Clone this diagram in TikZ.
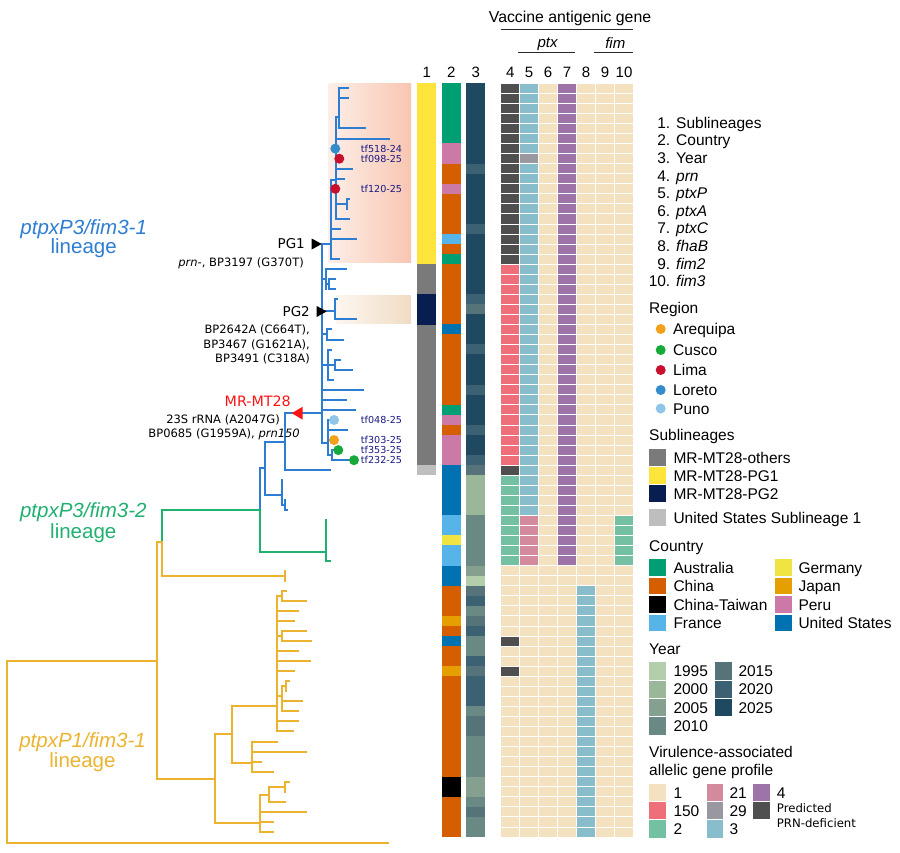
\documentclass[tikz,border=0pt]{standalone}
\usepackage{fontspec}
\setmainfont{Liberation Sans}
\newfontfamily\dvs{DejaVu Sans}
% tree colours
\definecolor{trB}{RGB}{45,125,210}
\definecolor{trG}{RGB}{32,176,112}
\definecolor{trO}{RGB}{236,179,48}
\definecolor{tipnavy}{RGB}{25,25,130}
\definecolor{mrred}{RGB}{250,20,20}
% profile colours
\definecolor{pOne}{RGB}{243,225,192}
\definecolor{pOneFifty}{RGB}{238,111,122}
\definecolor{pTwo}{RGB}{116,192,162}
\definecolor{pTwentyOne}{RGB}{212,138,157}
\definecolor{pTwentyNine}{RGB}{153,151,159}
\definecolor{pThree}{RGB}{136,189,203}
\definecolor{pFour}{RGB}{158,115,168}
\definecolor{pPrn}{RGB}{79,79,79}
% country
\definecolor{cAU}{RGB}{0,158,115}
\definecolor{cCN}{RGB}{213,94,0}
\definecolor{cTW}{RGB}{0,0,0}
\definecolor{cFR}{RGB}{86,180,233}
\definecolor{cDE}{RGB}{240,228,66}
\definecolor{cJP}{RGB}{230,159,0}
\definecolor{cPE}{RGB}{204,121,167}
\definecolor{cUS}{RGB}{0,114,178}
% sublineages
\definecolor{sOth}{RGB}{122,122,122}
\definecolor{sPGa}{RGB}{255,228,60}
\definecolor{sPGb}{RGB}{8,30,80}
\definecolor{sUS}{RGB}{190,190,190}
% years
\definecolor{yA}{RGB}{178,206,171}
\definecolor{yB}{RGB}{155,183,154}
\definecolor{yC}{RGB}{134,160,143}
\definecolor{yD}{RGB}{106,136,132}
\definecolor{yE}{RGB}{85,115,120}
\definecolor{yF}{RGB}{60,97,114}
\definecolor{yG}{RGB}{30,73,96}
% regions
\definecolor{rAr}{RGB}{243,160,26}
\definecolor{rCu}{RGB}{22,170,60}
\definecolor{rLi}{RGB}{200,16,46}
\definecolor{rLo}{RGB}{52,140,204}
\definecolor{rPu}{RGB}{142,197,232}
% backgrounds
\definecolor{bgAl}{RGB}{253,238,231}
\definecolor{bgAr}{RGB}{248,198,178}
\definecolor{bgBl}{RGB}{253,246,240}
\definecolor{bgBr}{RGB}{240,220,196}
\definecolor{hdr}{RGB}{40,40,40}

\newcommand\ry[1]{83.3+10.05*(#1)}
\newcommand\hrun[4]{\foreach \i in {#2,...,#3}{\filldraw[fill=#4,draw=white,line width=1] ({500.7+18.95*(#1-4)},{\ry{\i}}) rectangle ({500.7+18.95*(#1-3)},{\ry{\i+1}});}}

\begin{document}
\begin{tikzpicture}[x=1pt,y=-1pt,
  tb/.style={draw=trB,line width=1.9,line cap=rect},
  tg/.style={draw=trG,line width=1.9,line cap=rect},
  to/.style={draw=trO,line width=1.9,line cap=rect},
  leg/.style={font=\fontsize{15.5}{18}\selectfont,inner sep=0pt,text height=11.1pt,text depth=0pt,anchor=west},
  legi/.style={leg,font=\fontsize{15.5}{18}\selectfont\itshape},
  legn/.style={leg,anchor=east},
  tip/.style={font=\dvs\fontsize{9.6}{11}\selectfont,text=tipnavy,inner sep=0pt,text height=7pt,text depth=0pt,anchor=west},
  anno/.style={font=\dvs\fontsize{11.5}{13}\selectfont,inner sep=0pt,text height=8.4pt,text depth=0pt,anchor=east},
  pglab/.style={font=\dvs\fontsize{13.5}{15}\selectfont,inner sep=0pt,text height=9.9pt,text depth=0pt,anchor=east},
  linlab/.style={font=\fontsize{20.5}{22}\selectfont,inner sep=0pt,text height=14.7pt,text depth=0pt,anchor=center},
  colnum/.style={font=\fontsize{15}{17}\selectfont,inner sep=0pt,text height=10.7pt,text depth=0pt,anchor=center},
  small/.style={font=\dvs\fontsize{11.7}{13}\selectfont,inner sep=0pt,text height=8.5pt,text depth=0pt,anchor=west},
  dot/.style={circle,inner sep=0pt,minimum size=10pt}
]
\useasboundingbox (0,0) rectangle (900,852);

% ---------- highlighted clades ----------
\shade[left color=bgAl,right color=bgAr] (328.7,83.3) rectangle (411,262.7);
\shade[left color=bgBl,right color=bgBr] (336.7,295) rectangle (410.7,323.3);

% ---------- header ----------
\node[font=\fontsize{15.8}{18}\selectfont,inner sep=0pt,text height=11.3pt,text depth=3pt] (hvac) at (570,18) {Vaccine antigenic gene};
\draw[hdr,line width=1.2] (500.7,29.3) -- (633,29.3);
\node[font=\fontsize{15}{17}\selectfont\itshape,inner sep=0pt,text height=10.7pt,text depth=3pt] (hptx) at (547.5,44) {ptx};
\node[font=\fontsize{15}{17}\selectfont\itshape,inner sep=0pt,text height=10.7pt,text depth=0pt] (hfim) at (615.3,43) {fim};
\draw[hdr,line width=1.2] (518,52.3) -- (575,52.3);
\draw[hdr,line width=1.2] (594,52.3) -- (633,52.3);
\foreach \t/\x in {1/426.7,2/451.2,3/475.8,4/510.2,5/529.1,6/548.1,7/567,8/586,9/605,10/624}
  \node[colnum] (cn\t) at (\x,71.7) {\t};

% ---------- column 1: sublineages ----------
\fill[sPGa] (417.3,{\ry{0}}) rectangle (436,{\ry{18}});
\fill[sOth] (417.3,{\ry{18}}) rectangle (436,{\ry{21}});
\fill[sPGb] (417.3,{\ry{21}}) rectangle (436,{\ry{24}});
\fill[sOth] (417.3,{\ry{24}}) rectangle (436,{\ry{38}});
\fill[sUS] (417.3,{\ry{38}}) rectangle (436,{\ry{39}});

% ---------- column 2: country ----------
\foreach \c [count=\n from 0] in {cAU,cAU,cAU,cAU,cAU,cAU,cPE,cPE,cCN,cCN,cPE,cCN,cCN,cCN,cCN,cFR,cCN,cAU,cCN,cCN,cCN,cCN,cCN,cCN,cUS,cCN,cCN,cCN,cCN,cCN,cCN,cCN,cAU,cPE,cCN,cPE,cPE,cPE,cUS,cUS,cUS,cUS,cUS,cFR,cFR,cDE,cFR,cFR,cUS,cUS,cCN,cCN,cCN,cJP,cCN,cUS,cCN,cCN,cJP,cCN,cCN,cCN,cCN,cCN,cCN,cCN,cCN,cCN,cCN,cTW,cTW,cCN,cCN,cCN,cCN}
  \fill[\c] (441.7,{\ry{\n}-0.2}) rectangle (460.7,{\ry{\n+1}+0.2});

% ---------- column 3: year ----------
\foreach \c [count=\n from 0] in {yG,yG,yG,yG,yG,yG,yG,yG,yF,yG,yG,yG,yG,yG,yF,yG,yG,yG,yG,yG,yG,yF,yE,yG,yG,yG,yF,yG,yG,yG,yF,yG,yG,yG,yF,yG,yG,yF,yE,yB,yB,yB,yB,yD,yD,yD,yD,yD,yC,yA,yE,yF,yD,yE,yF,yD,yD,yF,yE,yF,yF,yF,yD,yE,yE,yD,yD,yD,yD,yC,yC,yD,yE,yD,yD}
  \fill[\c] (466.3,{\ry{\n}-0.2}) rectangle (485.3,{\ry{\n+1}+0.2});

% ---------- columns 4-10: allelic profiles ----------
\foreach \k in {4,...,10}{\hrun{\k}{0}{74}{pOne}}
\hrun{4}{0}{17}{pPrn}
\hrun{4}{18}{37}{pOneFifty}
\hrun{4}{38}{38}{pPrn}
\hrun{4}{39}{47}{pTwo}
\hrun{4}{55}{55}{pPrn}
\hrun{4}{58}{58}{pPrn}
\hrun{5}{0}{42}{pThree}
\hrun{5}{7}{7}{pTwentyNine}
\hrun{5}{43}{47}{pTwentyOne}
\hrun{7}{0}{47}{pFour}
\hrun{8}{50}{74}{pThree}
\hrun{10}{43}{47}{pTwo}

% ---------- tree: ptxP3/fim3-1 (blue) ----------
\draw[tb]
 (339.3,88.3)--(339.3,128.4) (339.3,88.3)--(348.3,88.3) (339.3,98.4)--(347.7,98.4) (339.3,128.4)--(365,128.4)
 (336,116.7)--(339.3,116.7) (336,116.7)--(336,218.9)
 (336,138.6)--(389.3,138.6) (336,158.7)--(339.3,158.7) (336,168.7)--(351.7,168.7) (336,178.8)--(343.7,178.8)
 (336,203.9)--(347.3,203.9) (347.3,198.9)--(347.3,208.9) (347.3,198.9)--(349.4,198.9)
 (336,218.9)--(349.3,218.9)
 (331,180)--(336,180) (331,180)--(331,259.2)
 (331,229)--(340,229) (331,239.1)--(356,239.1) (331,259.2)--(339,259.2)
 (321.7,244)--(331,244) (321.7,244)--(321.7,443.3)
 (321.7,279.3)--(325.7,279.3) (325.7,269.2)--(325.7,289.3) (325.7,269.2)--(345.7,269.2)
 (325.7,284.3)--(329.4,284.3) (329.4,279.3)--(329.4,289.3) (329.4,279.3)--(335,279.3) (329.4,289.3)--(335,289.3)
 (321.7,311.4)--(335,311.4) (335,299.4)--(335,319.3) (335,299.4)--(337.3,299.4) (335,319.3)--(355.7,319.3)
 (321.7,334.4)--(326.7,334.4) (326.7,329.4)--(326.7,339.6) (326.7,329.4)--(330.7,329.4) (326.7,339.6)--(343.3,339.6)
 (321.7,364.7)--(328.3,364.7) (328.3,349.6)--(328.3,379.8) (328.3,349.6)--(331,349.6) (328.3,364.7)--(335,364.7)
 (335,359.7)--(335,369.7) (335,359.7)--(340,359.7) (335,369.7)--(351.7,369.7) (328.3,379.8)--(333,379.8)
 (321.7,389.8)--(363.3,389.8) (321.7,399.9)--(345.7,399.9) (321.7,409.9)--(355,409.9)
 (285,413.3)--(321.7,413.3)
 (321.7,443.3)--(328,443.3) (328,420)--(328,455) (328,420)--(334,420) (328,430)--(346.7,430) (328,440.1)--(334,440.1)
 (328,455)--(331.7,455) (331.7,450.1)--(331.7,460.2) (331.7,450.1)--(338.3,450.1) (331.7,460.2)--(354,460.2)
 (285,413.3)--(285,470.2) (285,470.2)--(330,470.2) (265,441.7)--(285,441.7) (265,441.7)--(265,495)
 (265,495)--(281.7,495) (281.7,480.2)--(281.7,505.4) (281.7,505.4)--(285,505.4) (285,500.3)--(285,510.4) (285,510.4)--(287.4,510.4)
 (260,468.3)--(265,468.3) (260,468.3)--(260,510);

% ---------- tree: ptxP3/fim3-2 (green) ----------
\draw[tg]
 (161.7,510)--(260,510) (260,510)--(260,551.7) (260,551.7)--(325.7,551.7)
 (325.7,520.4)--(325.7,560.7) (325.7,560.7)--(330,560.7) (161.7,510)--(161.7,541.7);

% ---------- tree: ptxP1/fim3-1 (orange) ----------
\draw[to]
 (161.7,541.7)--(161.7,575.7) (161.7,575.7)--(285,575.7) (285,570.7)--(285,580.8)
 (157.3,541.7)--(161.7,541.7) (157.3,541.7)--(157.3,779)
 (7.3,660.7)--(157.3,660.7) (7.3,660.7)--(7.3,842.7) (7.3,842.7)--(388.3,842.7)
 (157.3,779)--(215,779) (215,734.3)--(215,822.7) (215,734.3)--(231.7,734.3)
 (231.7,705.7)--(231.7,763.3) (231.7,705.7)--(276.7,705.7) (276.7,595.7)--(276.7,731.3)
 (276.7,595.8)--(281.7,595.8) (281.7,590.8)--(281.7,600.9) (281.7,590.8)--(286,590.8) (281.7,600.9)--(306,600.9)
 (276.7,610.9)--(298.3,610.9) (276.7,621)--(294.3,621)
 (276.7,636)--(281.7,636) (281.7,631)--(281.7,641.1) (281.7,631)--(306,631) (281.7,641.1)--(310.7,641.1)
 (276.7,651.1)--(298.3,651.1) (276.7,661.2)--(310,661.2) (276.7,671.2)--(294.3,671.2)
 (276.7,696.4)--(281.7,696.4) (281.7,686.3)--(281.7,711.4) (281.7,686.3)--(286,686.3) (286,681.3)--(286,691.3)
 (286,681.3)--(289.3,681.3) (281.7,701.4)--(301.7,701.4) (281.7,711.4)--(297.7,711.4)
 (276.7,721.3)--(297.7,721.3) (276.7,731.3)--(293.3,731.3)
 (231.7,763.3)--(252.3,763.3) (252.3,741.6)--(252.3,771.7)
 (252.3,741.6)--(276.7,741.6) (252.3,751.6)--(306,751.6) (252.3,761.7)--(260.7,761.7) (252.3,771.7)--(273.3,771.7)
 (215,822.7)--(260,822.7) (260,795)--(260,832)
 (260,795)--(269,795) (269,786.8)--(269,801.9) (269,786.8)--(285,786.8) (285,781.8)--(285,791.8) (285,781.8)--(289.3,781.8)
 (269,801.9)--(285,801.9) (260,811.9)--(306,811.9) (260,822)--(273.3,822) (260,832)--(273.3,832);

% ---------- node markers ----------
\fill[black] (311.7,238.5)--(311.7,249.5)--(321.7,244)--cycle;
\fill[black] (316.7,306)--(316.7,317)--(326.7,311.4)--cycle;
\fill[mrred] (291.7,413.2)--(302.7,406.7)--(302.7,419.7)--cycle;

% ---------- region dots on tips ----------
\node[dot,fill=rLo] (d1) at (335.3,148.6) {};
\node[dot,fill=rLi] (d2) at (339.3,158.7) {};
\node[dot,fill=rLi] (d3) at (335.3,188.8) {};
\node[dot,fill=rPu] (d4) at (334,420) {};
\node[dot,fill=rAr] (d5) at (334,440.1) {};
\node[dot,fill=rCu] (d6) at (338.3,450.1) {};
\node[dot,fill=rCu] (d7) at (354,460.2) {};

% ---------- tip labels ----------
\node[tip] (t1) at (360.7,148.6) {tf518-24};
\node[tip] (t2) at (360.7,158.7) {tf098-25};
\node[tip] (t3) at (360.7,188.8) {tf120-25};
\node[tip] (t4) at (360.7,420) {tf048-25};
\node[tip] (t5) at (360.7,440.1) {tf303-25};
\node[tip] (t6) at (360.7,450.1) {tf353-25};
\node[tip] (t7) at (360.7,460.2) {tf232-25};

% ---------- annotations ----------
\node[pglab] (pg1) at (305,244) {PG1};
\node[anno] (pg1a) at (304,262.5) {\itshape prn\upshape-, BP3197 (G370T)};
\node[pglab] (pg2) at (310,311.5) {PG2};
\node[anno] (pg2a) at (310,329.5) {BP2642A (C664T),};
\node[anno] (pg2b) at (310,344) {BP3467 (G1621A),};
\node[anno] (pg2c) at (310,358.5) {BP3491 (C318A)};
\node[pglab,text=mrred,font=\dvs\fontsize{14.3}{16}\selectfont,text height=10.4pt] (mr) at (291,401) {MR-MT28};
\node[anno] (mra) at (280,419) {23S rRNA (A2047G)};
\node[anno] (mrb) at (300,433.5) {BP0685 (G1959A), \itshape prn150};

% ---------- lineage labels ----------
\node[linlab,text=trB,font=\fontsize{20.5}{22}\selectfont\itshape] (lb1) at (83.7,227.5) {ptpxP3/fim3-1};
\node[linlab,text=trB] (lb2) at (83.7,246.5) {lineage};
\node[linlab,text=trG,font=\fontsize{20.5}{22}\selectfont\itshape] (lg1) at (83.3,510) {ptpxP3/fim3-2};
\node[linlab,text=trG] (lg2) at (83.3,531) {lineage};
\node[linlab,text=trO,font=\fontsize{20.5}{22}\selectfont\itshape] (lo1) at (82.5,740) {ptpxP1/fim3-1};
\node[linlab,text=trO] (lo2) at (82.5,760.5) {lineage};

% ---------- legend: numbered list ----------
\foreach \n/\t/\s [count=\k from 0] in {1/Sublineages/leg,2/Country/leg,3/Year/leg,4/prn/legi,5/ptxP/legi,6/ptxA/legi,7/ptxC/legi,8/fhaB/legi,9/fim2/legi,10/fim3/legi}{
  \node[legn] (ln\n) at (670.5,{122.7+17.6*\k}) {\n.};
  \node[\s] (lt\n) at (676,{122.7+17.6*\k}) {\t};
}

% ---------- legend: region ----------
\node[leg] (hreg) at (649,308) {Region};
\foreach \c/\t/\y [count=\k] in {rAr/Arequipa/329,rCu/Cusco/350,rLi/Lima/370,rLo/Loreto/390,rPu/Puno/408.5}{
  \node[dot,fill=\c] (rd\k) at (660.7,\y) {};
  \node[leg] (rt\k) at (673,\y) {\t};
}

% ---------- legend: sublineages ----------
\node[leg] (hsub) at (649,435) {Sublineages};
\foreach \c/\t/\y [count=\k] in {sOth/MR-MT28-others/457.5,sPGa/MR-MT28-PG1/475.5,sPGb/MR-MT28-PG2/493.5,sUS/United States Sublineage 1/517.5}{
  \fill[\c] (649.3,{\y-8.25}) rectangle (666,{\y+8.25});
  \node[leg] (st\k) at (673.3,\y) {\t};
}

% ---------- legend: country ----------
\node[leg] (hcty) at (649,546) {Country};
\foreach \c/\t/\y [count=\k] in {cAU/Australia/567.5,cCN/China/586,cTW/China-Taiwan/604.5,cFR/France/623}{
  \fill[\c] (649.3,{\y-8.25}) rectangle (666,{\y+8.25});
  \node[leg] (ca\k) at (673.3,\y) {\t};
}
\foreach \c/\t/\y [count=\k] in {cDE/Germany/567.5,cJP/Japan/586,cPE/Peru/604.5,cUS/United States/623}{
  \fill[\c] (775,{\y-8.25}) rectangle (791.7,{\y+8.25});
  \node[leg] (cb\k) at (798.3,\y) {\t};
}

% ---------- legend: year ----------
\node[leg] (hyr) at (649,649.3) {Year};
\foreach \c/\t/\y [count=\k] in {yA/1995/671,yB/2000/689.3,yC/2005/707.7,yD/2010/726}{
  \fill[\c] (649.3,{\y-8.6}) rectangle (666,{\y+8.6});
  \node[leg] (ya\k) at (673.3,\y) {\t};
}
\foreach \c/\t/\y [count=\k] in {yE/2015/671,yF/2020/689.3,yG/2025/707.7}{
  \fill[\c] (715,{\y-8.6}) rectangle (731.7,{\y+8.6});
  \node[leg] (yb\k) at (738.3,\y) {\t};
}

% ---------- legend: virulence profile ----------
\node[leg] (hvir1) at (649,752.3) {Virulence-associated};
\node[leg] (hvir2) at (649,770) {allelic gene profile};
\foreach \c/\t/\y [count=\k] in {pOne/1/792.7,pOneFifty/150/810.7,pTwo/2/829}{
  \fill[\c] (649.3,{\y-8.6}) rectangle (666,{\y+8.6});
  \node[leg] (va\k) at (673.3,\y) {\t};
}
\foreach \c/\t/\y [count=\k] in {pTwentyOne/21/792.7,pTwentyNine/29/810.7,pThree/3/829}{
  \fill[\c] (706.7,{\y-8.6}) rectangle (723.3,{\y+8.6});
  \node[leg] (vb\k) at (729.3,\y) {\t};
}
\fill[pFour] (753.3,784.1) rectangle (770,801.3);
\node[leg] (vc1) at (776.7,792.7) {4};
\fill[pPrn] (753.3,802.1) rectangle (770,819.3);
\node[small] (vc2) at (776.7,808.3) {Predicted};
\node[small] (vc3) at (776.7,823.3) {PRN-deficient};
\end{tikzpicture}
\end{document}
